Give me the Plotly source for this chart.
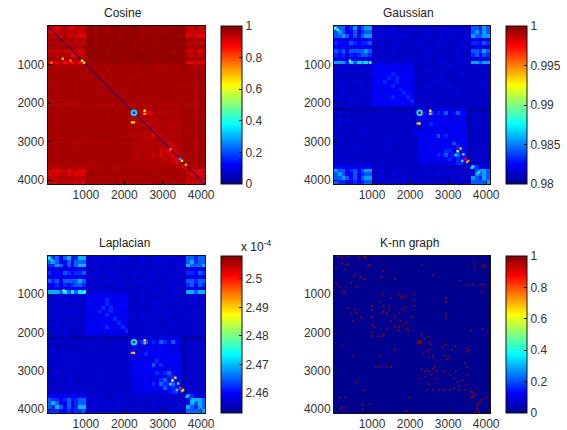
import plotly.graph_objects as go

cell_centres = [50 + 100 * i for i in range(41)]
jet = [[0, "rgb(0,0,143)"], [0.125, "rgb(0,0,255)"], [0.375, "rgb(0,255,255)"],
       [0.625, "rgb(255,255,0)"], [0.875, "rgb(255,0,0)"], [1, "rgb(128,0,0)"]]
ring_xy = [2250]

cosine_levels = [0.98, 0.965, 0.958, 0.948, 0.93, 0.905, 0.875, 0.84, 0.79, 0.7]
cosine_rows = [
"3454245344 00100100001 000100010001000 44344",
"4543243344 00000100000 000001000100000 44344",
"3344243455 00100000100 000100010000010 54455",
"1111121212 00000000000 000000000000000 11211",
"3322432334 00100010000 010000100000100 33243",
"1121212121 00000000000 000000000000000 11211",
"4342444454 00000100000 000100000001000 44354",
"3231326443 00000000000 000000000000000 34243",
"1121121211 00000000000 000000000000000 11211",
"4453646463 00100100010 000100010001000 55455",
"2232322322 11112121111 112111121211211 22322",
"2212212121 21121212121 212112121211211 12122",
"1121111211 11212121112 111212111211121 11211",
"2111211121 11113121111 211111211111211 21112",
"1211121211 21112111211 111211111211111 11211",
"2112111211 11211221111 211211211121121 21121",
"1211211112 21111113121 111121111211211 12112",
"1121111211 11211111211 211111211112111 11211",
"2111211121 21111211121 111211211111121 21112",
"1211121112 11211111112 211121112111211 12111",
"2322232322 22322232223 232223222322232 23222",
"1111211112 11121111211 122121212212211 11211",
"1211121211 21111211121 222355323323321 12112",
"1121111211 11211112111 122122222222221 11211",
"2111211121 11111211111 122233232222321 21112",
"1211121211 21121112111 123343333233331 12111",
"1121111211 11211111211 222222332233221 11211",
"2111211121 11111211111 232323432333231 21112",
"1211121112 21111111121 233233534232321 12111",
"1121111211 11211211111 122333323232331 11211",
"2221222322 22322232223 233223232343231 22322",
"1111211112 11111121111 122332323334331 11211",
"1211121211 21111211121 233333324454421 12111",
"1121111211 11211111211 133232435345431 11211",
"2111211121 11111211111 132233323434541 21112",
"1211121112 11211112111 122222222334531 12111",
"2232223222 22322222322 222232222232225 43222",
"4554354455 21211211211 121211211211121 34454",
"5453453555 11111111111 111111211111111 35454",
"3432323433 12121121211 211211121211121 43343",
"4343343445 11111111111 111111111111111 44445",
]
cosine_spot_x = [2250, 2530, 2530, 2250, 2200, 950, 600, 400, 100, 3200, 3450, 3500, 3600, 900]
cosine_spot_y = [2250, 2200, 2280, 2500, 2500, 950, 900, 850, 950, 3200, 3450, 3500, 3600, 900]
cosine_spot_v = [0.12, 0.65, 0.7, 0.68, 0.65, 0.65, 0.75, 0.7, 0.75, 0.78, 0.3, 0.6, 0.7, 0.6]
cosine_ring_v = [0.35]

gaussian_levels = [0.9806, 0.9813, 0.9819, 0.9825, 0.9832, 0.9842, 0.9856, 0.987, 0.989, 0.99]
gaussian_rows = [
"6553463566 11211211112 111211121112111 55465",
"5652352455 11111211111 111111111211111 56465",
"5565352566 11211111211 111211121111121 65566",
"2222222323 11111111111 111111111111111 22322",
"4333543445 11211121111 121111211111211 44354",
"2232323232 11111111111 111111111111111 22322",
"5453555565 11111211111 111211111112111 55465",
"4342434554 11111111111 111111111111111 45354",
"2232232322 11111111111 111111111111111 22322",
"6664757675 11211211121 111211121112111 66566",
"1111111111 33323332323 111111111211111 11111",
"1121211211 23233323232 111211111111111 11211",
"1111111111 32333432333 111111121111211 11111",
"1111111111 23324342333 111111111111111 11111",
"1121121211 33342343232 111111211111111 11211",
"1111111111 23233423333 111211111211111 11111",
"1111111111 32323334323 111111111111111 11111",
"1121111211 33233333433 111111111112111 11111",
"1111111111 23323433343 111111211111111 11111",
"1111211111 33332333334 111111111111111 11111",
"1111111111 32323232323 111111111111111 11111",
"0000100000 00010000000 121121212212210 00000",
"1111111111 11111111111 222353435235330 11111",
"0101010101 11111111111 122222222222220 11111",
"1211111111 11111111111 132233323222310 11111",
"1111111111 11111111111 123343323232330 11111",
"1111111111 11111111111 112222232233220 11111",
"1111111211 11111111111 222323232333230 11111",
"1111111111 11111111111 133232534232320 11111",
"1111111111 11111111111 122333323232330 11111",
"1211111111 11121111111 133223233353230 11111",
"1111111111 11111111111 122332323334330 11111",
"1111121111 11111111111 132232324434320 11111",
"1111111111 11111111111 123232435345320 11111",
"1111111111 11111111111 122232323434340 11111",
"1111111111 11111111111 122222222234430 11111",
"3323323323 11111111111 111111111111111 54222",
"6553453566 11211111211 111211111211111 25665",
"5652352455 11111211111 111111211111111 26565",
"5565352566 11211111211 111111111111211 65465",
"5443343455 11111111111 111111111111111 55556",
]
gaussian_spot_x = [2250, 2530, 2530, 2250, 2200, 3250, 3330, 3450, 3500, 3530, 3400, 3200, 3370, 950, 420, 100, 30, 3650, 3620, 3800]
gaussian_spot_y = [2250, 2200, 2280, 2530, 2530, 3250, 3180, 3450, 3530, 3500, 3330, 3350, 3500, 950, 900, 100, 60, 3650, 3680, 3800]
gaussian_spot_v = [1.0, 0.993, 0.994, 0.993, 0.994, 0.993, 0.994, 0.998, 0.995, 0.995, 0.988, 0.987, 0.987, 0.99, 0.99, 0.989, 0.99, 0.988, 0.987, 0.988]
gaussian_ring_v = [0.987]

laplacian_levels = [2.4547, 2.4566, 2.4582, 2.4599, 2.4621, 2.4651, 2.4695, 2.4728, 2.476, 2.48]
laplacian_rows = [
"6453563466 11211211212 111211121112111 55455",
"5652352555 11111211111 111111111211111 56455",
"4465352566 11211111211 111211121111121 65556",
"2222222323 11111111111 111111111111111 22322",
"4333543445 11211121111 121111211111211 44354",
"2232323232 11111111111 111111111111111 22322",
"5453555565 11111211211 111211111112111 55455",
"3342434554 11111111111 111111111111111 45354",
"2232232322 11111111111 111111111111111 22322",
"6665757577 11211211121 111211121112111 66566",
"1111111111 23323232323 111111111211111 11111",
"1121211211 23233423232 111211111111111 11211",
"1111111111 32323432333 111111121111211 11111",
"1111111111 23324342333 111111111111111 11111",
"1121121211 32342343232 111111211111111 11211",
"1111111111 23233423233 111211111211111 11111",
"1111111111 32323334323 111111111111111 11111",
"1121111211 23233323423 111111111112111 11111",
"1111111111 23323423243 111111211111111 11111",
"1111211111 32332323234 111111111111111 11111",
"1111111111 22222222223 111111111111111 11111",
"0000100000 00010000000 121121212212210 00000",
"1111111111 11111111111 222453435435330 11111",
"0101010101 11111111111 122222222222220 11111",
"1211111111 11111111111 132233323222310 11111",
"1111111111 11111111111 123343323232330 11111",
"1111111111 11111111111 112222232233220 11111",
"1111111211 11111111111 222323242333230 11111",
"1111111111 11111111111 133232534232320 11111",
"1111111111 11111111111 122333323232330 11111",
"1211111111 11121111111 133223243453230 11111",
"1111111111 11111111111 122332323344330 11111",
"1111121111 11111111111 132232324534320 11111",
"1111111111 11111111111 123232435445320 11111",
"1111111111 11111111111 122232323534340 11111",
"1111111111 11111111111 122222222234430 11111",
"3323323323 11111111111 111111111111111 54222",
"5443453455 11211111211 111211111211111 26665",
"5652352455 11111211111 111111211111111 36565",
"5465352466 11211111211 111111111111211 65465",
"4443343445 11111111111 111111111111111 55556",
]
laplacian_spot_x = [2250, 2530, 2530, 2250, 2200, 3250, 3330, 3450, 3500, 3530, 3400, 3200, 3370, 950, 420, 100, 30, 3650, 3620, 3800]
laplacian_spot_y = [2250, 2200, 2280, 2530, 2530, 3250, 3180, 3450, 3530, 3500, 3330, 3350, 3500, 950, 900, 100, 60, 3650, 3680, 3800]
laplacian_spot_v = [2.505, 2.49, 2.493, 2.49, 2.493, 2.488, 2.49, 2.5, 2.493, 2.49, 2.475, 2.473, 2.473, 2.478, 2.478, 2.472, 2.475, 2.472, 2.47, 2.472]
laplacian_ring_v = [2.472]

knn_x = [100,200,350,650,800,850,220,350,900,950,50,300,520,560,700,800,60,150,200,250,600,450,280,
         3700,3700,3900,3950,3950,3500,3650,3850,3950,3900,3300,2600,2300,1300,1250,1600,
         1280,1300,1250,1400,1300,1450,1450,1200,1380,1000,1000,1000,1000,1050,1000,1000,1500,1700,1750,1800,1900,2100,2100,2100,2050,1600,1500,1700,1750,1800,1900,1950,1700,1600,1400,1300,1250,1150,1800,1850,1700,1900,
         550,350,450,600,700,500,2950,2950,2950,2950,3600,3900,200,2300,2500,1600,500,1200,1100,1200,1400,1500,2400,600,800,2000,
         2450,2500,2500,2600,2550,2500,2350,2850,2950,2900,3000,2950,3100,3200,3500,3500,3550,3450,3500,3500,2300,2400,2500,2600,2650,2700,2550,2700,2900,3050,3150,3250,3300,3400,3500,3200,3150,2450,2600,2750,2900,3050,3300,3450,2250,2500,2400,
         3600,3650,3700,3700,3650,3600,3750,3800,3900,4000,4100,3750,3800,3850,150,300,200,300,180,750,950,750,1900,3700,3800]
knn_y = [20,40,40,30,30,60,200,230,230,250,300,350,520,480,550,600,700,800,950,900,800,700,950,
         200,300,250,300,250,750,750,750,750,950,650,500,220,400,550,600,
         1000,1300,1500,1500,1450,1300,1400,1200,1500,1300,1400,1600,1800,1850,2000,2100,1100,1000,1050,1100,1050,1000,1150,1300,1600,1600,1700,1500,1700,1800,1900,1950,1850,1850,1900,2050,2100,2100,1400,1350,1950,1750,
         1400,1350,1500,1500,1600,1700,1100,1200,1500,1600,1950,1900,2350,2050,2100,2450,2600,2600,2900,2900,2900,2900,2150,3300,3500,3700,
         2500,2450,2650,2600,2300,2250,2550,2400,2300,2600,2650,2700,2450,2350,2400,2500,2450,2800,2900,3100,2950,3000,3000,2950,2900,3000,3100,3200,3000,3100,3200,3300,3400,3250,3350,3000,3450,3500,3500,3500,3500,3500,3500,3500,3200,3350,3150,
         3550,3550,3600,3650,3680,3700,3900,3850,3750,3700,3800,4000,4100,3800,3700,3700,3950,3950,3980,3900,3850,4000,4050,4100,4050]
knn_spot_x = [2250]
knn_spot_y = [2250]
diagonal_ends = [1, 4100]

W, H = 567, 430
FONT = "Liberation Sans, Arial, sans-serif"
INK = "#333333"


def grid(rows, levels):
    return [[levels[int(c)] for c in r.replace(" ", "")] for r in rows]


def dom_x(a, b):
    return [a / W, b / W]


def dom_y(top, bot):
    return [1 - bot / H, 1 - top / H]


def bar(x0, top, bot, **kw):
    return dict(x=x0 / W, xanchor="left", xref="paper", y=1 - bot / H, yanchor="bottom", yref="paper",
                len=(bot - top) / H, lenmode="fraction", thickness=20.5, thicknessmode="pixels",
                xpad=0, ypad=0, outlinecolor="#111", outlinewidth=1, ticks="inside", ticklen=3,
                tickcolor="#111", tickwidth=1, tickfont=dict(family=FONT, size=12, color=INK), **kw)


def spots(x, y, v, lo, hi, ax):
    return go.Scatter(x=x, y=y, mode="markers", xaxis="x" + ax, yaxis="y" + ax, showlegend=False,
                      marker=dict(symbol="square", size=2.4, color=v, cmin=lo, cmax=hi, colorscale=jet, showscale=False))


def ring(v, lo, hi, ax):
    return go.Scatter(x=ring_xy, y=ring_xy, mode="markers", xaxis="x" + ax, yaxis="y" + ax, showlegend=False,
                      marker=dict(symbol="circle", size=6.5, color=v, cmin=lo, cmax=hi, colorscale=jet, showscale=False))


fig = go.Figure()
L1, R1, L2, R2 = 47.5, 205, 334, 490
T1, B1, T2, B2 = 26, 184, 256, 413
CB1, CB2 = 220.5, 506

fig.add_trace(go.Heatmap(x=cell_centres, y=cell_centres, z=grid(cosine_rows, cosine_levels), zmin=0, zmax=1,
                         colorscale=jet, zsmooth=False, xaxis="x", yaxis="y",
                         colorbar=bar(CB1, T1, B1, tickvals=[0, .2, .4, .6, .8, 1], ticktext=["0", "0.2", "0.4", "0.6", "0.8", "1"])))
fig.add_trace(go.Scatter(x=diagonal_ends, y=diagonal_ends, mode="lines", line=dict(color="rgb(0,0,143)", width=1),
                         xaxis="x", yaxis="y", showlegend=False))
fig.add_trace(ring(cosine_ring_v, 0, 1, ""))
fig.add_trace(spots(cosine_spot_x, cosine_spot_y, cosine_spot_v, 0, 1, ""))
fig.add_trace(go.Heatmap(x=cell_centres, y=cell_centres, z=grid(gaussian_rows, gaussian_levels), zmin=0.98, zmax=1,
                         colorscale=jet, zsmooth=False, xaxis="x2", yaxis="y2",
                         colorbar=bar(CB2, T1, B1, tickvals=[.98, .985, .99, .995, 1], ticktext=["0.98", "0.985", "0.99", "0.995", "1"])))
fig.add_trace(ring(gaussian_ring_v, 0.98, 1, "2"))
fig.add_trace(spots(gaussian_spot_x, gaussian_spot_y, gaussian_spot_v, 0.98, 1, "2"))
fig.add_trace(go.Heatmap(x=cell_centres, y=cell_centres, z=grid(laplacian_rows, laplacian_levels), zmin=2.453, zmax=2.508,
                         colorscale=jet, zsmooth=False, xaxis="x3", yaxis="y3",
                         colorbar=bar(CB1, T2, B2, tickvals=[2.46, 2.47, 2.48, 2.49, 2.5], ticktext=["2.46", "2.47", "2.48", "2.49", "2.5"])))
fig.add_trace(go.Scatter(x=diagonal_ends, y=diagonal_ends, mode="lines", line=dict(color="rgb(0,0,143)", width=1), opacity=0.45,
                         xaxis="x3", yaxis="y3", showlegend=False))
fig.add_trace(ring(laplacian_ring_v, 2.453, 2.508, "3"))
fig.add_trace(spots(laplacian_spot_x, laplacian_spot_y, laplacian_spot_v, 2.453, 2.508, "3"))
fig.add_trace(go.Heatmap(x=[1, 4100], y=[1, 4100], z=[[0, 0], [0, 0]], zmin=0, zmax=1,
                         colorscale=jet, xaxis="x4", yaxis="y4",
                         colorbar=bar(CB2, T2, B2, tickvals=[0, .2, .4, .6, .8, 1], ticktext=["0", "0.2", "0.4", "0.6", "0.8", "1"])))
fig.add_trace(go.Scatter(x=knn_x, y=knn_y, mode="markers", marker=dict(symbol="square", size=1.8, color="rgb(130,8,24)"),
                         xaxis="x4", yaxis="y4", showlegend=False))
fig.add_trace(go.Scatter(x=knn_spot_x, y=knn_spot_y, mode="markers", marker=dict(symbol="circle", size=5, color="rgb(130,0,0)"),
                         xaxis="x4", yaxis="y4", showlegend=False))


def axes(xdom, ydom):
    common = dict(showgrid=False, zeroline=False, showline=True, mirror=True, linecolor="#111", linewidth=1,
                  ticks="inside", ticklen=3, tickcolor="#111", tickvals=[1000, 2000, 3000, 4000],
                  ticktext=["1000", "2000", "3000", "4000"], tickfont=dict(family=FONT, size=12, color=INK))
    return dict(domain=xdom, range=[1, 4100], **common), dict(domain=ydom, range=[4100, 1], **common)


panels = [("", "", L1, R1, T1, B1), ("2", "2", L2, R2, T1, B1), ("3", "3", L1, R1, T2, B2), ("4", "4", L2, R2, T2, B2)]
layout = {}
for xs, ys, l, r, t, b in panels:
    xa, ya = axes(dom_x(l, r), dom_y(t, b))
    xa["anchor"] = "y" + ys
    ya["anchor"] = "x" + xs
    layout["xaxis" + xs] = xa
    layout["yaxis" + ys] = ya


def note(text, x, y, size=12):
    return dict(text=text, x=x / W, y=1 - y / H, xref="paper", yref="paper", showarrow=False,
                xanchor="center", yanchor="middle", font=dict(family=FONT, size=size, color="#222"))


fig.update_layout(width=W, height=H, margin=dict(l=0, r=0, t=0, b=0, autoexpand=False), paper_bgcolor="white", plot_bgcolor="white",
                  showlegend=False,
                  annotations=[note("Cosine", 123, 13), note("Gaussian", 408, 13), note("Laplacian", 124, 243),
                               note("K-nn graph", 409, 243), note("x 10<sup>-4</sup>", 256, 246)],
                  **layout)
fig.write_html("out.html", config={"displayModeBar": False}, post_script="document.body.style.margin='0';")
